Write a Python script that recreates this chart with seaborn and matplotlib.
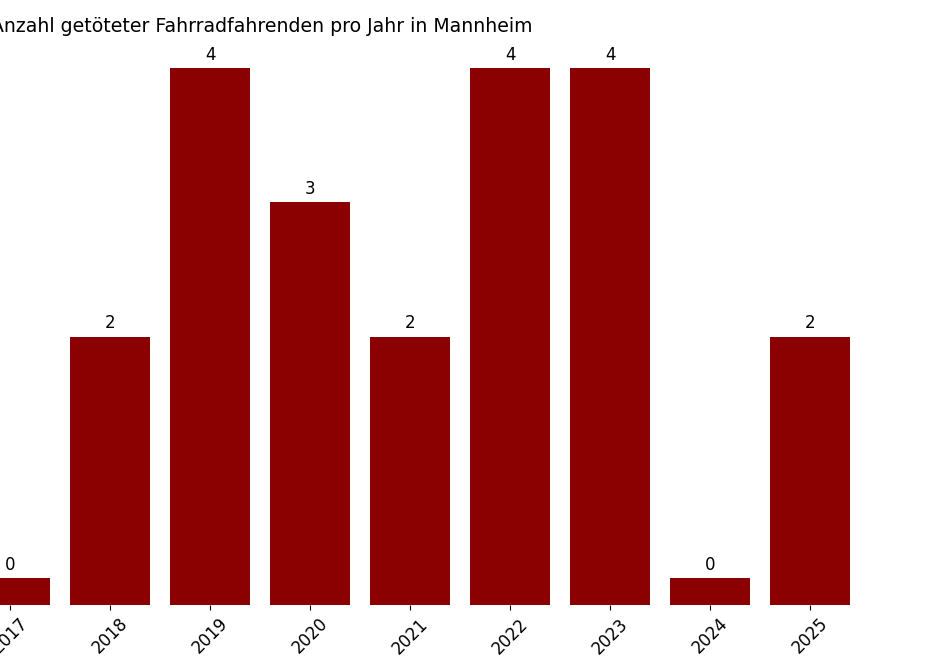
import numpy as np
import seaborn as sns
import matplotlib.pyplot as plt
import pandas as pd

years = ["2017", "2018", "2019", "2020", "2021", "2022", "2023", "2024", "2025"]
deaths = [0, 2, 4, 3, 2, 4, 4, 0, 2]

# zero years get a small stub so they stay visible
shown = [d if d > 0 else 0.2 for d in deaths]
df = pd.DataFrame({"Jahr": years, "Anzahl": shown})

fig = plt.figure(figsize=(9.26, 6.72), dpi=100)
ax = fig.add_axes([-0.0432, 0.0997, 0.972, 0.839])
sns.barplot(data=df, x="Jahr", y="Anzahl", color="#8B0000", saturation=1, width=0.8, ax=ax)

for i, (s, d) in enumerate(zip(shown, deaths)):
    ax.text(i, s + 0.03, str(d), ha="center", va="bottom", fontsize=12)

ax.set_ylim(0, 4.2)
ax.set_xlabel("")
ax.set_ylabel("")
ax.set_yticks([])
for sp in ax.spines.values():
    sp.set_visible(False)
ax.tick_params(axis="x", labelsize=12, rotation=45)

fig.text(0.283, 0.96, "Anzahl getöteter Fahrradfahrenden pro Jahr in Mannheim",
         ha="center", va="center", fontsize=13.6)

fig.savefig("out.png", dpi=100)
